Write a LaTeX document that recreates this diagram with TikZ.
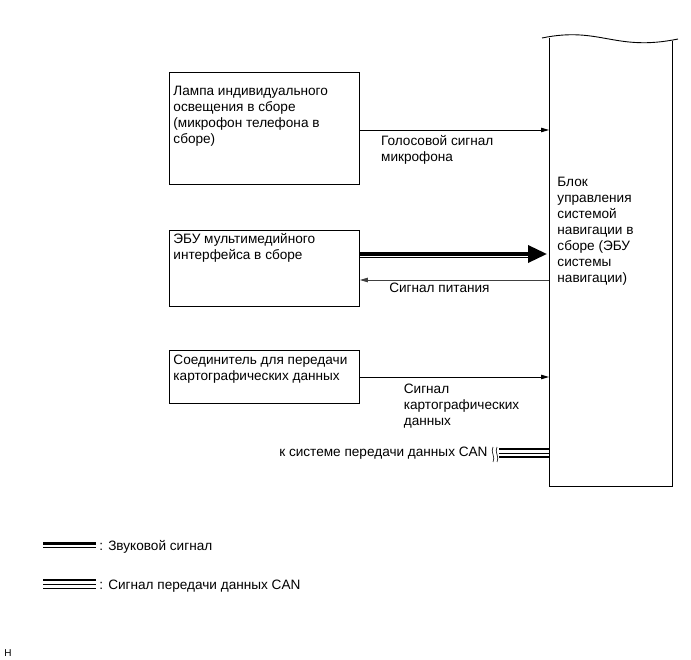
\documentclass[tikz,border=0pt]{standalone}
\usepackage{fontspec}
\setmainfont{Liberation Sans}
\usetikzlibrary{calc,positioning}
\usetikzlibrary{arrows.meta}

\begin{document}
\begin{tikzpicture}[x=1pt,y=-1pt,line width=0.9pt,
    >={Triangle[length=8pt,width=4.5pt]},
    every node/.style={font=\fontsize{13.6}{16}\selectfont},
    unit/.style={draw,anchor=north west,minimum width=190pt,inner sep=0pt},
    txt/.style={align=left,anchor=base west,inner sep=0pt}]
    \useasboundingbox (0,0) rectangle (691,660);
    \node[unit,minimum height=112pt] (lamp) at (169,72) {};
    \node[unit,minimum height=76pt] (media) at (169,230) {};
    \node[unit,minimum height=53pt] (conn) at (169,350) {};
    \node[anchor=north west,minimum width=123pt,minimum height=448pt,inner sep=0pt] (navi) at (549,38) {};
    \draw (navi.north west) -- (navi.south west) -- (navi.south east) -- ($(navi.north east)+(0,3)$);
    \draw (542,38) .. controls (600,26) and (615,52) .. (678,39);
    \node[txt] at (173,144) {Лампа индивидуального\\освещения в сборе\\(микрофон телефона в\\сборе)};
    \node[txt] at (173,260) {ЭБУ мультимедийного\\интерфейса в сборе};
    \node[txt] at (173,381) {Соединитель для передачи\\картографических данных};
    \node[txt] at (557,283) {Блок\\управления\\системой\\навигации в\\сборе (ЭБУ\\системы\\навигации)};
    \draw[->] ($(lamp.north east)+(0,58)$) -- node[txt,pos=0.11,yshift=-32pt] {Голосовой сигнал\\микрофона} ($(lamp.north east -| navi.west)+(0,58)$);
    \draw[line width=3.5pt,-{Triangle[length=19pt,width=17pt]}] ($(media.north east)+(0,24)$) -- ($(media.north east -| navi.west)+(-2,24)$);
    \draw ($(media.north east)+(0,27)$) -- ($(media.north east -| navi.west)+(-21,27)$);
    \draw[->,black!75] ($(media.north east -| navi.west)+(0,50)$) -- node[txt,black,pos=0.847,yshift=-13pt] {Сигнал питания} ($(media.north east)+(0,50)$);
    \draw[->] ($(conn.north east)+(0,27)$) -- node[txt,pos=0.23,yshift=-48pt] {Сигнал\\картографических\\данных} ($(conn.north east -| navi.west)+(0,27)$);
    \node[inner sep=0pt,anchor=base east] (can) at (488,456) {к системе передачи данных CAN};
    \coordinate (brk) at (499,453);
    \draw[line width=1.6pt] ($(brk)+(0,-4)$) -- ($(brk -| navi.west)+(0,-4)$);
    \draw[line width=0.8pt] (brk) -- (brk -| navi.west);
    \draw[line width=1.6pt] ($(brk)+(0,4)$) -- ($(brk -| navi.west)+(0,4)$);
    \draw[line width=0.6pt] (493,447) .. controls (490,451) and (496,458) .. (493,462);
    \draw[line width=0.6pt] (497,447) .. controls (494,451) and (500,458) .. (497,462);
    \draw[line width=3.5pt] (43,543.5) -- (96,543.5);
    \draw[line width=1pt] (43,547) -- (96,547);
    \node[txt] (audiokey) at (99,550) {: Звуковой сигнал};
    \draw[line width=1.6pt] (43,580) -- (96,580);
    \draw[line width=0.8pt] (43,584.5) -- (96,584.5);
    \draw[line width=1.6pt] (43,588.5) -- (96,588.5);
    \node[txt] (cankey) at (99,589) {: Сигнал передачи данных CAN};
    \node[txt,font=\fontsize{10}{12}\selectfont] (ref) at (4,656) {H};
\end{tikzpicture}
\end{document}
